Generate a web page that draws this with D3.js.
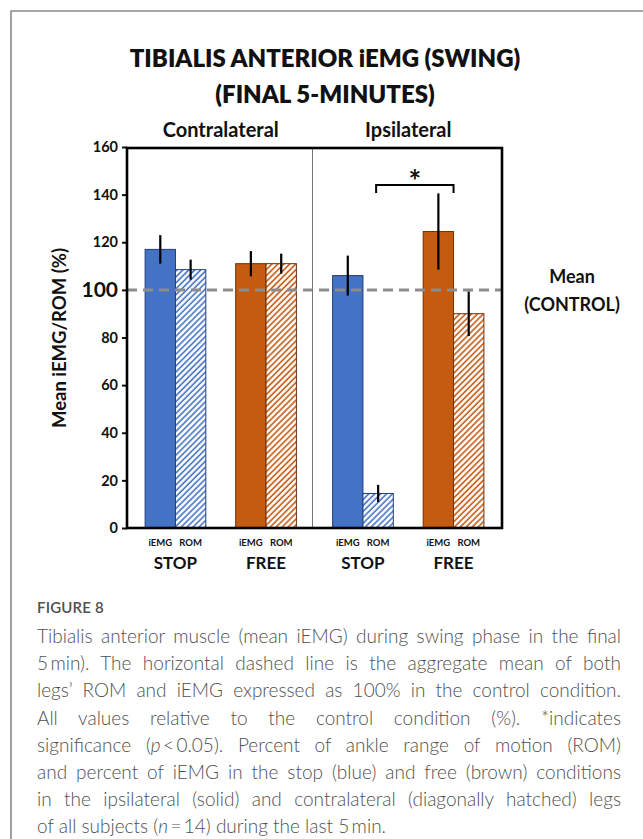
<!DOCTYPE html>
<html>
<head>
<meta charset="utf-8">
<script src="https://cdn.jsdelivr.net/npm/d3@7/dist/d3.min.js"></script>
<style>
  body { margin: 0; background: #fff; }
  #page { position: relative; width: 643px; height: 839px; overflow: hidden; }
  svg { position: absolute; left: 0; top: 0; }
  .chart text { font-family: Lato, "Open Sans", sans-serif; font-weight: bold; fill: #111; }
  #caption { position: absolute; left: 37px; top: 592px; width: 584px;
    font-family: Lato, "Open Sans", sans-serif; color: #505050; }
  #caption .fig { font-size: 15px; font-weight: 600; letter-spacing: 0.2px; height: 30px; line-height: 30px; }
  #caption .ln { font-size: 19px; font-weight: 300; line-height: 27.2px; white-space: nowrap;
    text-align: justify; text-align-last: justify; }
  #caption .ln.last { text-align-last: left; }
</style>
</head>
<body>
<div id="page">
  <div id="chart"></div>
  <div id="caption"></div>
</div>
<script>
// data (mean % of control, +/- error)
const panels = ["Contralateral", "Ipsilateral"]
const conditions = ["STOP", "FREE"]
const measures = ["iEMG", "ROM"]
const contraMeans = [117, 108.5, 111, 111]   // STOP iEMG, STOP ROM, FREE iEMG, FREE ROM
const contraErr = [6, 4.2, 5.3, 4.2]
const ipsiMeans = [106, 14.5, 124.5, 90]
const ipsiErr = [8.4, 3.6, 16, 9.4]
const yTicks = [0, 20, 40, 60, 80, 100, 120, 140, 160]
const controlMean = 100
const sigBracket = { panel: "Ipsilateral", from: "STOP", to: "FREE", y: 144 }

const titleLines = ["TIBIALIS ANTERIOR iEMG (SWING)", "(FINAL 5-MINUTES)"]
const captionTitle = "FIGURE 8"
const captionLines = [
  "Tibialis anterior muscle (mean iEMG) during swing phase in the final",
  "5\u2009min). The horizontal dashed line is the aggregate mean of both",
  "legs\u2019 ROM and iEMG expressed as 100% in the control condition.",
  "All values relative to the control condition (%). *indicates",
  "significance (<i>p</i>\u2009<\u20090.05). Percent of ankle range of motion (ROM)",
  "and percent of iEMG in the stop (blue) and free (brown) conditions",
  "in the ipsilateral (solid) and contralateral (diagonally hatched) legs",
  "of all subjects (<i>n</i>\u2009=\u200914) during the last 5\u2009min."
]

const COLORS = { STOP: "#4472C4", FREE: "#C55A11" }
const EDGE = { STOP: "#223f78", FREE: "#6e3008" }

const PLOT = { LEFT: 127, RIGHT: 502, TOP: 148, BOTTOM: 528 }

const rows = []
panels.forEach((p, pi) => {
  const means = pi === 0 ? contraMeans : ipsiMeans
  const errs = pi === 0 ? contraErr : ipsiErr
  conditions.forEach((c, ci) => {
    measures.forEach((m, mi) => {
      const k = ci * 2 + mi
      rows.push({ panel: p, cond: c, measure: m, value: means[k], err: errs[k] })
    })
  })
})

const svg = d3.select("#chart").append("svg")
  .attr("class", "chart")
  .attr("width", 643)
  .attr("height", 839)

// grey page frame
svg.append("path")
  .attr("d", "M11,839 V11 H643")
  .attr("fill", "none")
  .attr("stroke", "#8a8a8a")
  .attr("stroke-width", 1.6)

// hatch patterns
const defs = svg.append("defs")
conditions.forEach(c => {
  const pat = defs.append("pattern")
    .attr("id", "hatch-" + c)
    .attr("patternUnits", "userSpaceOnUse")
    .attr("width", 4.2)
    .attr("height", 4.2)
    .attr("patternTransform", "rotate(45)")
  pat.append("rect").attr("width", 4.2).attr("height", 4.2).attr("fill", "#fff")
  pat.append("line")
    .attr("x1", 1).attr("x2", 1).attr("y1", 0).attr("y2", 4.2)
    .attr("stroke", COLORS[c]).attr("stroke-width", 1.6)
})

const x0 = d3.scaleBand()
  .domain(panels)
  .range([PLOT.LEFT, PLOT.RIGHT])

const x1 = d3.scaleBand()
  .domain(conditions)
  .range([0, x0.bandwidth()])
  .paddingInner(0.33)
  .paddingOuter(0.2)

const x2 = d3.scaleBand()
  .domain(measures)
  .range([0, x1.bandwidth()])

const y = d3.scaleLinear()
  .domain([0, 160])
  .range([PLOT.BOTTOM, PLOT.TOP - 1])

const barX = d => x0(d.panel) + x1(d.cond) + x2(d.measure)

// titles
svg.selectAll(".title")
  .data(titleLines)
  .enter().append("text")
    .attr("class", "title")
    .attr("x", 325)
    .attr("y", (d, i) => 67 + i * 35.5)
    .attr("text-anchor", "middle")
    .style("font-size", "24px")
    .style("font-weight", 800)
    .text(d => d)

svg.selectAll(".panel-title")
  .data(panels)
  .enter().append("text")
    .attr("class", "panel-title")
    .attr("x", d => x0(d) + x0.bandwidth() / 2)
    .attr("y", 137)
    .attr("text-anchor", "middle")
    .style("font-size", "20px")
    .text(d => d)

// y axis
const yAxisCall = d3.axisLeft(y)
  .tickValues(yTicks)
  .tickSize(5)
  .tickPadding(4)

const yAxis = svg.append("g")
  .attr("transform", `translate(${PLOT.LEFT}, 0)`)
  .call(yAxisCall)
yAxis.select(".domain").remove()
yAxis.selectAll(".tick line").attr("stroke", "#111").attr("stroke-width", 2)
yAxis.selectAll("text")
  .attr("fill", "#111")
  .style("font-family", "Lato, 'Open Sans', sans-serif")
  .style("font-weight", "bold")
  .style("font-size", d => d === 100 ? "21px" : "14.5px")

svg.append("text")
  .attr("transform", `translate(66, ${(PLOT.TOP + PLOT.BOTTOM) / 2}) rotate(-90)`)
  .attr("text-anchor", "middle")
  .style("font-size", "18.5px")
  .text("Mean iEMG/ROM (%)")

// bars
svg.selectAll(".bar")
  .data(rows)
  .enter().append("rect")
    .attr("class", "bar")
    .attr("x", barX)
    .attr("y", d => y(d.value))
    .attr("width", x2.bandwidth())
    .attr("height", d => y(0) - y(d.value))
    .attr("fill", d => d.measure === "iEMG" ? COLORS[d.cond] : `url(#hatch-${d.cond})`)
    .attr("stroke", d => EDGE[d.cond])
    .attr("stroke-width", 1)

// error bars
svg.selectAll(".err")
  .data(rows)
  .enter().append("line")
    .attr("class", "err")
    .attr("x1", d => barX(d) + x2.bandwidth() / 2)
    .attr("x2", d => barX(d) + x2.bandwidth() / 2)
    .attr("y1", d => y(d.value + d.err))
    .attr("y2", d => y(d.value - d.err))
    .attr("stroke", "#000")
    .attr("stroke-width", 2.2)

// control mean dashed line
svg.append("line")
  .attr("x1", PLOT.LEFT)
  .attr("x2", PLOT.RIGHT)
  .attr("y1", y(controlMean))
  .attr("y2", y(controlMean))
  .attr("stroke", "#8c8c8c")
  .attr("stroke-width", 3)
  .attr("stroke-dasharray", "10,6")

svg.selectAll(".mean-label")
  .data(["Mean", "(CONTROL)"])
  .enter().append("text")
    .attr("class", "mean-label")
    .attr("x", 572)
    .attr("y", (d, i) => 283 + i * 28)
    .attr("text-anchor", "middle")
    .style("font-size", "18px")
    .text(d => d)

// panel divider and plot frame
svg.append("line")
  .attr("x1", x0(panels[1]) - 2)
  .attr("x2", x0(panels[1]) - 2)
  .attr("y1", PLOT.TOP)
  .attr("y2", PLOT.BOTTOM)
  .attr("stroke", "#777")
  .attr("stroke-width", 1)

svg.append("rect")
  .attr("x", PLOT.LEFT)
  .attr("y", PLOT.TOP)
  .attr("width", PLOT.RIGHT - PLOT.LEFT)
  .attr("height", PLOT.BOTTOM - PLOT.TOP)
  .attr("fill", "none")
  .attr("stroke", "#000")
  .attr("stroke-width", 2.6)

// x labels
svg.selectAll(".measure-label")
  .data(rows)
  .enter().append("text")
    .attr("class", "measure-label")
    .attr("x", d => barX(d) + x2.bandwidth() / 2)
    .attr("y", 546)
    .attr("text-anchor", "middle")
    .style("font-size", "9.5px")
    .text(d => d.measure)

const condRows = rows.filter(d => d.measure === "iEMG")
svg.selectAll(".cond-label")
  .data(condRows)
  .enter().append("text")
    .attr("class", "cond-label")
    .attr("x", d => x0(d.panel) + x1(d.cond) + x1.bandwidth() / 2)
    .attr("y", 569)
    .attr("text-anchor", "middle")
    .style("font-size", "17px")
    .text(d => d.cond)

// significance bracket
const bx0 = x0(sigBracket.panel) + x1(sigBracket.from) + x2("ROM") + x2.bandwidth() / 2 - 2
const bx1 = x0(sigBracket.panel) + x1(sigBracket.to) + x2("iEMG") + x2.bandwidth()
const by = y(sigBracket.y)
svg.append("path")
  .attr("d", `M${bx0},${by + 8} V${by} H${bx1} V${by + 8}`)
  .attr("fill", "none")
  .attr("stroke", "#000")
  .attr("stroke-width", 2)
svg.append("text")
  .attr("x", (bx0 + bx1) / 2)
  .attr("y", by + 7)
  .attr("text-anchor", "middle")
  .style("font-size", "30px")
  .text("*")

// caption
const cap = d3.select("#caption")
cap.append("div").attr("class", "fig").text(captionTitle)
cap.selectAll(".ln")
  .data(captionLines)
  .enter().append("div")
    .attr("class", (d, i) => i === captionLines.length - 1 ? "ln last" : "ln")
    .html(d => d)
</script>
</body>
</html>
